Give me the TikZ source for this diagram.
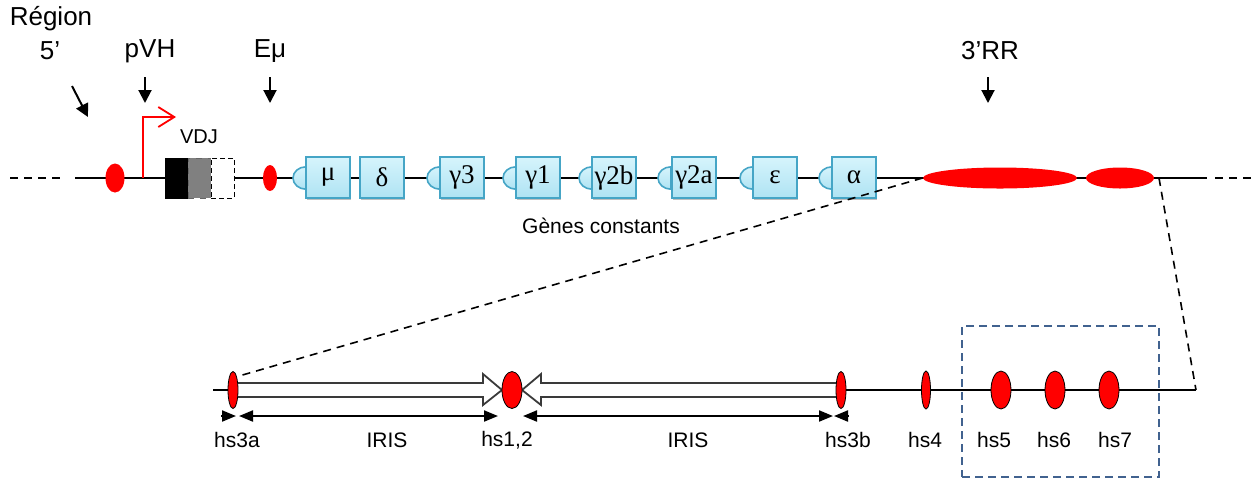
\documentclass[tikz,border=0pt]{standalone}
\usepackage{fontspec}
\setmainfont{Liberation Sans}
\newfontfamily\grk{Liberation Serif}
\usetikzlibrary{arrows.meta,shapes.geometric,shadows,calc}
\definecolor{boxtop}{HTML}{D6F4FC}
\definecolor{boxbot}{HTML}{AEE3F3}
\definecolor{boxdraw}{HTML}{45A5C6}
\definecolor{frameblue}{HTML}{41628F}
\definecolor{irisgray}{HTML}{3A3A3A}
\begin{document}
\begin{tikzpicture}[x=0.5pt,y=-0.5pt,
  gene/.style={draw=boxdraw,line width=0.8pt,top color=boxtop,bottom color=boxbot,
    minimum width=22pt,minimum height=20.5pt,inner sep=0pt,
    font=\grk\fontsize{13.5}{14}\selectfont,
    drop shadow={shadow xshift=0.7pt,shadow yshift=-0.9pt,opacity=0.25,fill=black}},
  semi/.style={draw=boxdraw,line width=0.8pt,top color=boxtop,bottom color=boxbot},
  topred/.style={ellipse,fill=red,draw=none,inner sep=0pt},
  hsred/.style={ellipse,fill=red,draw=black,line width=0.4pt,inner sep=0pt,minimum height=18.5pt},
  bigtxt/.style={font=\fontsize{13}{15}\selectfont,inner sep=0pt},
  smalltxt/.style={font=\fontsize{10.5}{12}\selectfont,inner sep=0pt},
  blackarrow/.style={line width=1pt,-{Triangle[length=6.5pt,width=6.5pt]}},
  dimarrow/.style={line width=1pt,{Triangle[length=7pt,width=5.5pt]}-{Triangle[length=7pt,width=5.5pt]}},
  headonly/.style={line width=1pt,-{Triangle[length=7pt,width=5.5pt]}},
  zoomline/.style={line width=0.8pt,dash pattern=on 4pt off 3pt},
  iris/.style={draw=irisgray,line width=0.9pt,fill=white,line join=miter}
]
\useasboundingbox (0,0) rectangle (1260,479);

% ---------- top chromosome line ----------
\coordinate (dL1) at (10,178);
\coordinate (L) at (75,178);
\coordinate (R) at (1207,178);
\coordinate (dR2) at (1256,178);
\draw[zoomline] (dL1) -- (62,178);
\draw[line width=0.9pt] (L) -- (R);
\draw[zoomline] (1215,178) -- (dR2);

% semicircles (drawn before boxes)
\foreach \cx in {306,440,516,592,671,753,832}{
  \draw[semi] (\cx,178) ++(0pt,5.6pt) arc[start angle=90,end angle=270,x radius=6.5pt,y radius=5.6pt] -- cycle;
}

% constant genes
\node[gene] (mu)  at (328,177.5) {μ};
\node[gene] (de)  at (382,177.5) {δ};
\node[gene] (g3)  at (462,177.5) {γ3};
\node[gene] (g1)  at (538,177.5) {γ1};
\node[gene] (g2b) at (614,177.5) {γ2b};
\node[gene] (g2a) at (694,177.5) {γ2a};
\node[gene] (eps) at (775,177.5) {ε};
\node[gene] (al)  at (854,177.5) {α};

% red elements top
\node[topred,minimum width=9.5pt,minimum height=14.5pt] (r5) at (115,178) {};
\node[topred,minimum width=7pt,minimum height=13pt] (emu) at (270,178) {};
\node[topred,minimum width=77pt,minimum height=10.5pt] (rr1) at (1000,178) {};
\node[topred,minimum width=34pt,minimum height=10.5pt] (rr2) at (1120,178) {};

% VDJ
\node[draw=black,fill=black,minimum width=11.5pt,minimum height=20pt,inner sep=0pt,line width=0.5pt] (V) at (176.5,178) {};
\node[draw=black!60,fill=black!50,minimum width=11.5pt,minimum height=20pt,inner sep=0pt,line width=0.5pt,dashed] (D) at (199.5,178) {};
\node[draw=black,fill=white,minimum width=11.5pt,minimum height=20pt,inner sep=0pt,line width=0.5pt,dash pattern=on 2.5pt off 1.5pt] (J) at (222.5,178) {};
\node[font=\fontsize{10}{12}\selectfont,inner sep=0pt] (vdjt) at (199,137) {VDJ};

% promoter arrow
\coordinate (pv0) at (143,178);
\coordinate (pv1) at (176,117);
\draw[red,line width=0.9pt,-{Straight Barb[length=8pt,width=10pt]}] (pv0) |- (pv1);

% labels and arrows top
\node[bigtxt] (regt) at (51,19) {Région};
\node[bigtxt] (r5t) at (50,51) {5’};
\node[bigtxt] (pvht) at (150,51) {pVH};
\node[bigtxt] (emut) at (270,51) {Eμ};
\node[bigtxt] (rrt) at (990,51) {3’RR};
\coordinate (a1s) at (72,86); \coordinate (a1e) at (88,117);
\coordinate (a2s) at (145,77); \coordinate (a2e) at (145,103);
\coordinate (a3s) at (270,77); \coordinate (a3e) at (270,103);
\coordinate (a4s) at (988,77); \coordinate (a4e) at (988,103);
\draw[blackarrow] (a1s) -- (a1e);
\draw[blackarrow] (a2s) -- (a2e);
\draw[blackarrow] (a3s) -- (a3e);
\draw[blackarrow] (a4s) -- (a4e);

\node[smalltxt] (gct) at (601,226) {Gènes constants};

% ---------- bottom line ----------
\coordinate (bL) at (213,390);
\coordinate (bR) at (1196,390);
\draw[line width=0.9pt] (bL) -- (bR);

% IRIS hollow arrows
\draw[iris] (238,383) -- (483,383) -- (483,374) -- (502,390) -- (483,405) -- (483,397) -- (238,397);
\draw[iris] (838,383) -- (541,383) -- (541,374) -- (522,390) -- (541,405) -- (541,397) -- (838,397);

% hs elements
\node[hsred,minimum width=5pt] (hs3a) at (233,390) {};
\node[hsred,minimum width=10pt] (hs12) at (512,390) {};
\node[hsred,minimum width=5pt] (hs3b) at (841,390) {};
\node[hsred,minimum width=4.5pt,minimum height=19pt] (hs4) at (926,390) {};
\node[hsred,minimum width=10pt,minimum height=19pt] (hs5) at (1001,390) {};
\node[hsred,minimum width=10pt,minimum height=19pt] (hs6) at (1055,390) {};
\node[hsred,minimum width=10pt,minimum height=19pt] (hs7) at (1109,390) {};

% zoom lines
\draw[zoomline] (rr1.west) -- (hs3a.north east);
\draw[zoomline] (1159,178) -- (bR);

% dimension arrows
\coordinate (d0) at (221,416); \coordinate (d1) at (236,416);
\coordinate (d2) at (239,416); \coordinate (d3) at (498,416);
\coordinate (d4) at (523,416); \coordinate (d5) at (833,416);
\coordinate (d6) at (849,416); \coordinate (d7) at (834,416);
\draw[headonly] (d0) -- (d1);
\draw[dimarrow] (d2) -- (d3);
\draw[dimarrow] (d4) -- (d5);
\draw[headonly] (d6) -- (d7);

% labels bottom
\node[smalltxt] (l3a) at (237,440) {hs3a};
\node[smalltxt] (li1) at (387,440) {IRIS};
\node[smalltxt] (l12) at (507,440) {hs1,2};
\node[smalltxt] (li2) at (688,440) {IRIS};
\node[smalltxt] (l3b) at (848,440) {hs3b};
\node[smalltxt] (l4) at (925,440) {hs4};
\node[smalltxt] (l5) at (994,440) {hs5};
\node[smalltxt] (l6) at (1054,440) {hs6};
\node[smalltxt] (l7) at (1115,440) {hs7};

% dashed frame
\node[draw=frameblue,line width=1pt,dash pattern=on 4pt off 2.5pt,inner sep=0pt,minimum width=98.5pt,minimum height=75.5pt] (frame) at (1060.5,401.5) {};
\end{tikzpicture}
\end{document}
